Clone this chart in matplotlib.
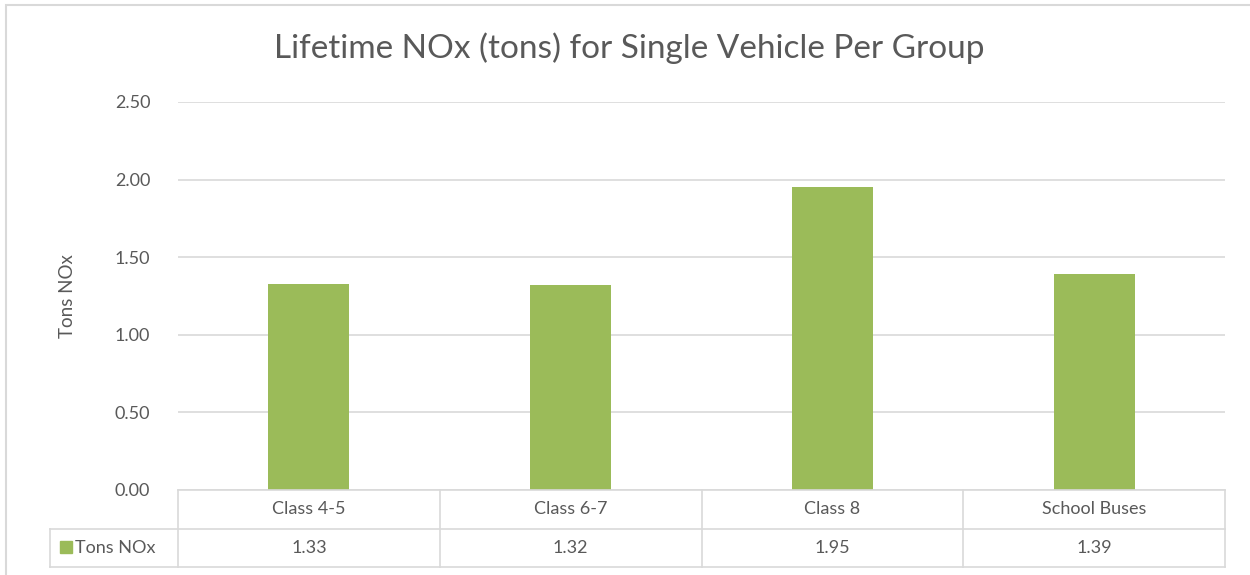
import matplotlib.pyplot as plt
from matplotlib.patches import Rectangle

# data
categories = ['Class 4-5', 'Class 6-7', 'Class 8', 'School Buses']
tons_nox = [1.33, 1.32, 1.95, 1.39]
value_labels = ['1.33', '1.32', '1.95', '1.39']
y_ticks = [0.0, 0.5, 1.0, 1.5, 2.0, 2.5]
series_name = 'Tons NOx'

plt.rcParams['font.family'] = ['Lato', 'DejaVu Sans']
bar_color = '#9BBB59'
grid_color = '#D9D9D9'
text_color = '#595959'

W, H = 1250, 575
fig = plt.figure(figsize=(12.5, 5.75), dpi=100)


def fx(px):
    return px / W


def fy(py):
    return 1 - py / H


# outer chart border
fig.patches.append(Rectangle((fx(6), fy(600)), fx(1300), fy(5) - fy(600),
                             transform=fig.transFigure, fill=False,
                             edgecolor=grid_color, linewidth=1.5))

# plot area
left, right, top, bottom = 178, 1225, 102, 490
ax = fig.add_axes([fx(left), fy(bottom), fx(right - left), fy(top) - fy(bottom)])
x = range(len(categories))
ax.bar(x, tons_nox, width=0.31, color=bar_color, zorder=3)
ax.set_xlim(-0.5, len(categories) - 0.5)
ax.set_ylim(0, 2.5)
ax.set_yticks(y_ticks)
ax.set_yticklabels([f'{v:.2f}' for v in y_ticks], fontsize=13, color=text_color)
ax.tick_params(axis='y', length=0, pad=20)
ax.set_xticks([])
ax.grid(axis='y', color=grid_color, linewidth=1.2, zorder=0)
for s in ax.spines.values():
    s.set_visible(False)
ax.set_ylabel('Tons NOx', fontsize=13.5, color=text_color, labelpad=28)

fig.text(fx(629), fy(48), 'Lifetime NOx (tons) for Single Vehicle Per Group',
         ha='center', va='center', fontsize=24, color=text_color)

# data table below the axis
row1, row2, row3 = 490, 529, 567
cw = (right - left) / len(categories)
lk = dict(color=grid_color, linewidth=1.2, transform=fig.transFigure)
fig.add_artist(plt.Line2D([fx(left), fx(right)], [fy(row1), fy(row1)], **lk))
fig.add_artist(plt.Line2D([fx(50), fx(right)], [fy(row2), fy(row2)], **lk))
fig.add_artist(plt.Line2D([fx(50), fx(right)], [fy(row3), fy(row3)], **lk))
fig.add_artist(plt.Line2D([fx(50), fx(50)], [fy(row2), fy(row3)], **lk))
for i in range(len(categories) + 1):
    xp = left + i * cw
    fig.add_artist(plt.Line2D([fx(xp), fx(xp)], [fy(row1), fy(row3)], **lk))
for i, (cat, val) in enumerate(zip(categories, value_labels)):
    xc = left + (i + 0.5) * cw
    fig.text(fx(xc), fy((row1 + row2) / 2), cat, ha='center', va='center',
             fontsize=13, color=text_color)
    fig.text(fx(xc), fy((row2 + row3) / 2), val, ha='center', va='center',
             fontsize=13, color=text_color)

fig.patches.append(Rectangle((fx(60), fy(553)), fx(12), fy(541) - fy(553),
                             transform=fig.transFigure, color=bar_color))
fig.text(fx(75), fy((row2 + row3) / 2), series_name, ha='left', va='center',
         fontsize=13, color=text_color)

fig.savefig('out.png', dpi=100)
